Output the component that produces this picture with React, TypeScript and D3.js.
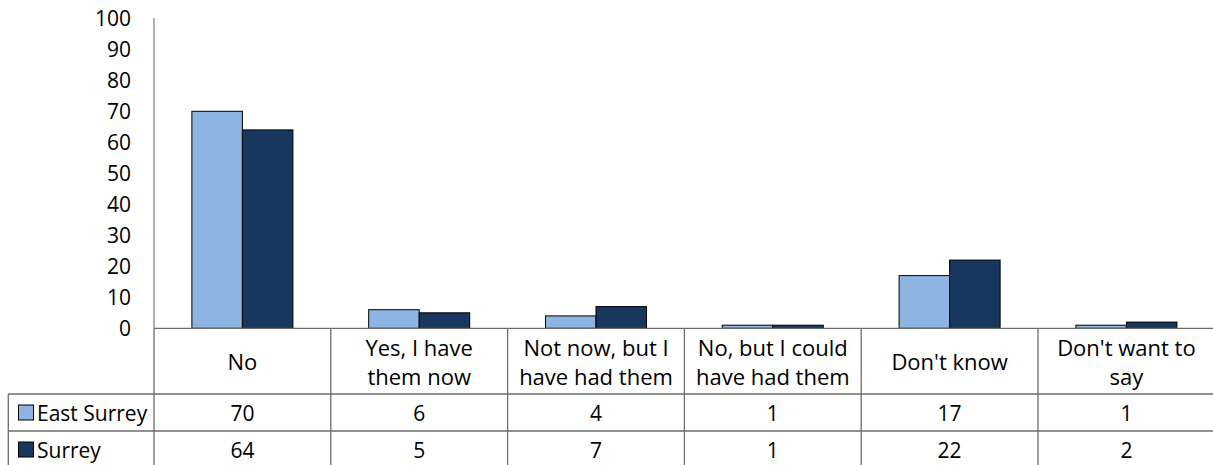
import * as d3 from "d3"

const categories = [
  "No",
  "Yes, I have\nthem now",
  "Not now, but I\nhave had them",
  "No, but I could\nhave had them",
  "Don't know",
  "Don't want to\nsay",
]
const seriesNames = ["East Surrey", "Surrey"]
const eastSurrey = [70, 6, 4, 1, 17, 1]
const surrey = [64, 5, 7, 1, 22, 2]
const yTicks = [0, 10, 20, 30, 40, 50, 60, 70, 80, 90, 100]
const colors = ["#8EB4E3", "#17375E"]

const W = 1213
const H = 465
const FONT = "'Open Sans', sans-serif"

export default function App() {
  const left = 154
  const top = 18.3
  const base = 328.3
  const step = 176.8
  const rowTop = [base, 394, 431, 468]
  const lineColor = "#6d6d6d"

  const x = d3.scaleBand<string>()
    .domain(categories)
    .range([left, left + step * categories.length])
    .paddingInner(0)
    .paddingOuter(0)

  // Excel-style 150% gap width between groups
  const xs = d3.scaleBand<string>()
    .domain(seriesNames)
    .range([0, x.bandwidth()])
    .paddingInner(0)
    .paddingOuter(0.75)

  const y = d3.scaleLinear().domain([0, 100]).range([base, top])

  const values = [eastSurrey, surrey]
  const right = left + step * categories.length

  return (
    <div style={{ position: "absolute", left: 0, top: 0 }}>
      <svg width={W} height={H} style={{ display: "block", background: "#fff" }} fontFamily={FONT}>
        {/* y tick labels */}
        {yTicks.map((t) => (
          <text key={t} x={131} y={y(t)} textAnchor="end" dominantBaseline="central" fontSize={21} fill="#000">
            {t}
          </text>
        ))}

        {/* bars */}
        {values.map((vals, si) =>
          vals.map((v, ci) => (
            <rect
              key={`${si}-${ci}`}
              x={(x(categories[ci]) || 0) + (xs(seriesNames[si]) || 0)}
              y={y(v)}
              width={xs.bandwidth()}
              height={base - y(v)}
              fill={colors[si]}
              stroke="#000"
              strokeWidth={1}
            />
          ))
        )}

        {/* y axis */}
        <line x1={left} x2={left} y1={top} y2={base} stroke="#868686" strokeWidth={1.3} />

        {/* data table grid */}
        <line x1={left} x2={right} y1={rowTop[0]} y2={rowTop[0]} stroke={lineColor} strokeWidth={1.3} />
        {rowTop.slice(1).map((ry) => (
          <line key={ry} x1={8.3} x2={right} y1={ry} y2={ry} stroke={lineColor} strokeWidth={1.3} />
        ))}
        <line x1={8.3} x2={8.3} y1={rowTop[1]} y2={rowTop[3]} stroke={lineColor} strokeWidth={1.3} />
        {categories.map((c) => (
          <line
            key={c}
            x1={x(c) || 0}
            x2={x(c) || 0}
            y1={base}
            y2={rowTop[3]}
            stroke={lineColor}
            strokeWidth={1.3}
          />
        ))}

        {/* category header labels */}
        {categories.map((c) => {
          const lines = c.split("\n")
          const cx = (x(c) || 0) + x.bandwidth() / 2
          const cy = (rowTop[0] + rowTop[1]) / 2
          const lh = 29
          return (
            <text key={c} x={cx} textAnchor="middle" fontSize={22} fill="#000">
              {lines.map((l, i) => (
                <tspan key={i} x={cx} y={cy + (i - (lines.length - 1) / 2) * lh} dominantBaseline="central">
                  {l}
                </tspan>
              ))}
            </text>
          )
        })}

        {/* legend cells + values */}
        {seriesNames.map((s, si) => {
          const cy = (rowTop[si + 1] + rowTop[si + 2]) / 2
          return (
            <g key={s}>
              <rect x={18.5} y={cy - 7.5} width={15} height={15} fill={colors[si]} stroke="#000" strokeWidth={1} />
              <text x={37} y={cy} dominantBaseline="central" fontSize={21} fill="#000">
                {s}
              </text>
              {values[si].map((v, ci) => (
                <text
                  key={ci}
                  x={(x(categories[ci]) || 0) + x.bandwidth() / 2}
                  y={cy}
                  textAnchor="middle"
                  dominantBaseline="central"
                  fontSize={21}
                  fill="#000"
                >
                  {v}
                </text>
              ))}
            </g>
          )
        })}
      </svg>
    </div>
  )
}
